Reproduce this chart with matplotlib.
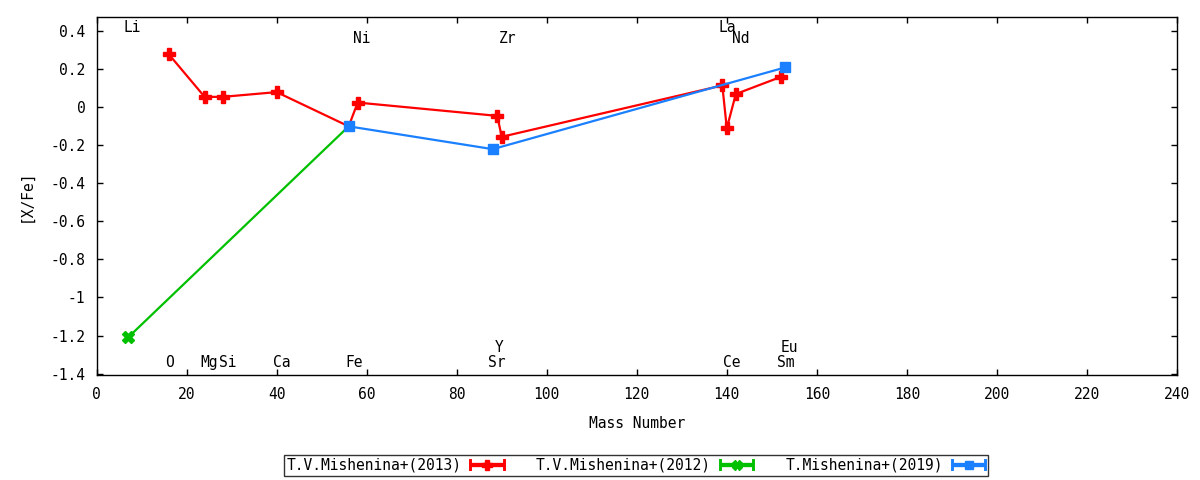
import numpy as np
import matplotlib
matplotlib.use('Agg')
import matplotlib.pyplot as plt
from matplotlib.lines import Line2D
from matplotlib.legend_handler import HandlerBase
from matplotlib.ticker import FuncFormatter, MultipleLocator

# donnees
mass_2013 = [16, 24, 28, 40, 56, 58, 89, 90, 139, 140, 142, 152]
xfe_2013 = [0.28, 0.055, 0.055, 0.08, -0.10, 0.025, -0.045, -0.155, 0.115, -0.11, 0.07, 0.16]

mass_2012 = [7, 56]
xfe_2012 = [-1.21, -0.10]

mass_2019 = [56, 88, 153]
xfe_2019 = [-0.10, -0.22, 0.21]

# etiquettes des elements (nom, position x, position y)
elem_names = ['Li', 'Ni', 'Zr', 'La', 'Nd', 'O', 'Mg', 'Si', 'Ca', 'Fe', 'Sr', 'Y', 'Ce', 'Sm', 'Eu']
elem_x = [8, 59, 91.2, 140.2, 143.2, 16.2, 25, 29.2, 41.2, 57.2, 89, 89.4, 141, 153.2, 154]
elem_y = [0.42, 0.36, 0.36, 0.42, 0.36, -1.34, -1.34, -1.34, -1.34, -1.34, -1.34, -1.265, -1.34, -1.34, -1.265]

labels = ['T.V.Mishenina+(2013)', 'T.V.Mishenina+(2012)', 'T.Mishenina+(2019)']
colors = ['#ff0000', '#00c000', '#1a80ff']

plt.rcParams['font.family'] = ['DejaVu Sans Mono', 'DejaVu Sans']
plt.rcParams['font.size'] = 10


class HandlerCaps(HandlerBase):
    # echantillon facon gnuplot : |--+--|
    def create_artists(self, legend, orig, xdescent, ydescent, width, height, fontsize, trans):
        y = height / 2 - ydescent
        x0 = -xdescent
        x1 = -xdescent + width
        c = orig.get_color()
        lw = orig.get_linewidth()
        ln = Line2D([x0, x1], [y, y], color=c, lw=lw + 1.5, solid_capstyle='butt')
        mk = Line2D([(x0 + x1) / 2], [y], color=c, marker=orig.get_marker(),
                    markersize=orig.get_markersize() * 0.85, linestyle='none')
        cap1 = Line2D([x0, x0], [y - 3.5, y + 3.5], color=c, lw=lw + 0.5)
        cap2 = Line2D([x1, x1], [y - 3.5, y + 3.5], color=c, lw=lw + 0.5)
        for a in (ln, mk, cap1, cap2):
            a.set_transform(trans)
        return [ln, cap1, cap2, mk]


fig = plt.figure(figsize=(12, 4.8), dpi=100)
ax = fig.add_axes([0.0805, 0.219, 0.9003, 0.7456])

# le point Fe est cache sous le carre bleu
idx_2013 = [i for i in range(len(mass_2013)) if mass_2013[i] != 56]
l1, = ax.plot(mass_2013, xfe_2013, color=colors[0], lw=1.6, marker='P', markersize=8.5,
              markevery=idx_2013, label=labels[0])
l2, = ax.plot(mass_2012, xfe_2012, color=colors[1], lw=1.6, marker='X', markersize=8,
              markevery=[0], label=labels[1])
l3, = ax.plot(mass_2019, xfe_2019, color=colors[2], lw=1.6, marker='s', markersize=7.5, label=labels[2])

for nom, xe, ye in zip(elem_names, elem_x, elem_y):
    ax.text(xe, ye, nom, ha='center', va='center', fontsize=10.5)

ax.set_xlim(0, 240)
ax.set_ylim(-1.407, 0.475)
ax.xaxis.set_major_locator(MultipleLocator(20))
ax.yaxis.set_major_locator(MultipleLocator(0.2))
ax.yaxis.set_major_formatter(FuncFormatter(lambda v, p: '%g' % round(v, 3)))
ax.tick_params(direction='in', length=4.5, width=1, top=True, right=True, labelsize=10.5)
ax.tick_params(axis='x', pad=9)
ax.tick_params(axis='y', pad=8)
for s in ax.spines.values():
    s.set_linewidth(1)

ax.set_xlabel('Mass Number', fontsize=10.5, labelpad=10)
ax.set_ylabel('[X/Fe]', fontsize=10.5, labelpad=12)

leg = fig.legend(handles=[l1, l2, l3], labels=labels, loc='center', ncol=3,
                 bbox_to_anchor=(0.53, 0.031), markerfirst=False, handlelength=2.3,
                 handler_map={Line2D: HandlerCaps()}, frameon=True, fancybox=False,
                 edgecolor='black', fontsize=10.5, columnspacing=2.2, handletextpad=0.6,
                 borderpad=0.2, borderaxespad=0)
leg.get_frame().set_linewidth(1)

fig.savefig('out.png', dpi=100)
